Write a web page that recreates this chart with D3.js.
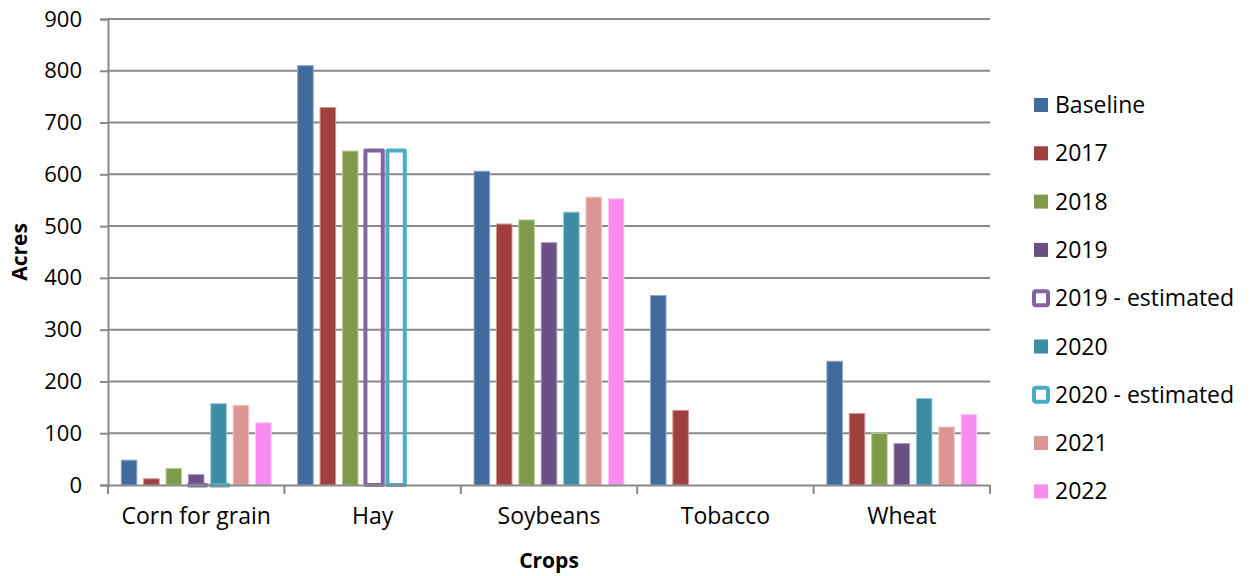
<!DOCTYPE html>
<html>
<head>
<meta charset="utf-8">
<script src="https://cdn.jsdelivr.net/npm/d3@7"></script>
<style>
  body { margin: 0; background: #fff; }
  text { font-family: "Open Sans", "Noto Sans", sans-serif; fill: #000; }
</style>
</head>
<body>
<svg id="chart" width="1251" height="576"></svg>
<script>
// crops on the x axis
var crops = ["Corn for grain", "Hay", "Soybeans", "Tobacco", "Wheat"];

// solid series (null = no bar)
var baseline = [48, 810, 606, 366, 239];
var y2017 = [12, 729, 504, 144, 138];
var y2018 = [32, 645, 512, null, 100];
var y2019 = [20, null, 468, null, 80];
var y2020 = [157, null, 527, null, 167];
var y2021 = [154, null, 556, null, 112];
var y2022 = [120, null, 553, null, 136];

// outlined (estimated) series
var y2019est = [0, 646, null, null, null];
var y2020est = [0, 646, null, null, null];

var yTicks = [0, 100, 200, 300, 400, 500, 600, 700, 800, 900];

var solidSeries = [
  {name: "Baseline", values: baseline, color: "#416a9d", edge: "#8ea8cc"},
  {name: "2017", values: y2017, color: "#a0403e", edge: "#cf9594"},
  {name: "2018", values: y2018, color: "#7f9a48", edge: "#bccd98"},
  {name: "2019", values: y2019, color: "#6a5084", edge: "#a996bf"},
  {name: "2020", values: y2020, color: "#3c8da3", edge: "#94c7d6"},
  {name: "2021", values: y2021, color: "#db9694", edge: "#f0c8c7"},
  {name: "2022", values: y2022, color: "#f98cf0", edge: "#fdc6f8"}
];
var estSeries = [
  {name: "2019 - estimated", values: y2019est, color: "#8064a2"},
  {name: "2020 - estimated", values: y2020est, color: "#4bacc6"}
];
var legendItems = [
  solidSeries[0], solidSeries[1], solidSeries[2], solidSeries[3],
  estSeries[0], solidSeries[4], estSeries[1], solidSeries[5], solidSeries[6]
];

var svg = d3.select("#chart"),
    margin = {top: 19, right: 261, bottom: 91, left: 108},
    width = +svg.attr("width") - margin.left - margin.right,
    height = +svg.attr("height") - margin.top - margin.bottom,
    g = svg.append("g").attr("transform", "translate(" + margin.left + "," + margin.top + ")");

var x = d3.scaleBand().domain(crops).range([0, width]);

// primary bars: 7 slots per crop
var x1 = d3.scaleBand()
    .domain(solidSeries.map(function(s) { return s.name; }))
    .range([0, x.bandwidth()])
    .paddingInner(0.26)
    .paddingOuter(0.57);

// estimated bars sit on their own wider, off-centre grouping
var x2 = d3.scaleBand()
    .domain(estSeries.map(function(s) { return s.name; }))
    .range([0, x.bandwidth()])
    .paddingInner(0.03)
    .paddingOuter(3.02)
    .align(0.594);

var y = d3.scaleLinear().domain([0, 900]).range([height, 0]);

// gridlines
g.append("g")
    .selectAll("line")
    .data(yTicks.slice(1))
    .enter().append("line")
      .attr("x1", 0)
      .attr("x2", width)
      .attr("y1", function(d) { return y(d); })
      .attr("y2", function(d) { return y(d); })
      .attr("stroke", "#898989")
      .attr("stroke-width", 2);

// y axis
var yAxis = g.append("g")
    .call(d3.axisLeft(y).tickValues(yTicks).tickSize(8).tickPadding(18));
yAxis.select(".domain").attr("stroke", "#898989").attr("stroke-width", 2);
yAxis.selectAll(".tick line").attr("stroke", "#898989").attr("stroke-width", 2);
yAxis.selectAll(".tick text").style("font-size", "22px").attr("fill", "#000");

// solid bars
var groups = g.selectAll(".crop")
    .data(crops)
    .enter().append("g")
      .attr("class", "crop")
      .attr("transform", function(d) { return "translate(" + x(d) + ",0)"; });

solidSeries.forEach(function(s) {
  groups.filter(function(d, i) { return s.values[i] != null; })
    .append("rect")
      .attr("x", x1(s.name) + 0.5)
      .attr("width", x1.bandwidth() - 1)
      .attr("y", function(d) { return y(s.values[crops.indexOf(d)]); })
      .attr("height", function(d) { return height - y(s.values[crops.indexOf(d)]); })
      .attr("fill", s.color)
      .attr("stroke", s.edge)
      .attr("stroke-width", 1);
});

// outlined bars (a zero value still shows as a flat outline)
estSeries.forEach(function(s) {
  groups.filter(function(d, i) { return s.values[i] != null; })
    .append("rect")
      .attr("x", x2(s.name) + 2)
      .attr("width", x2.bandwidth() - 4)
      .attr("y", function(d) { return y(s.values[crops.indexOf(d)]); })
      .attr("height", function(d) { return Math.max(0.5, height - y(s.values[crops.indexOf(d)])); })
      .attr("fill", "none")
      .attr("stroke", s.color)
      .attr("stroke-width", 4)
      .attr("stroke-linejoin", "round");
});

// x axis
var xAxis = g.append("g")
    .attr("transform", "translate(0," + height + ")")
    .call(d3.axisBottom(x).tickSize(0).tickPadding(23));
xAxis.select(".domain").attr("stroke", "#898989").attr("stroke-width", 2);
xAxis.selectAll(".tick text").style("font-size", "23px").attr("fill", "#000");

// category separators below the axis
g.append("g")
    .selectAll("line")
    .data(d3.range(crops.length + 1))
    .enter().append("line")
      .attr("x1", function(i) { return i * x.step(); })
      .attr("x2", function(i) { return i * x.step(); })
      .attr("y1", height)
      .attr("y2", height + 9)
      .attr("stroke", "#898989")
      .attr("stroke-width", 2);

// axis titles
svg.append("text")
    .attr("transform", "translate(20," + (margin.top + height / 2) + ") rotate(-90)")
    .attr("text-anchor", "middle")
    .attr("dy", "0.35em")
    .style("font-size", "21px")
    .style("font-weight", "bold")
    .text("Acres");

svg.append("text")
    .attr("x", margin.left + width / 2)
    .attr("y", 568)
    .attr("text-anchor", "middle")
    .style("font-size", "21px")
    .style("font-weight", "bold")
    .text("Crops");

// legend
var legend = svg.append("g").attr("transform", "translate(1034,105)");
var row = legend.selectAll(".row")
    .data(legendItems)
    .enter().append("g")
      .attr("class", "row")
      .attr("transform", function(d, i) { return "translate(0," + (i * 48.3) + ")"; });

row.append("rect")
    .attr("y", -7)
    .attr("width", 14)
    .attr("height", 14)
    .attr("rx", function(d) { return d.edge ? 0 : 2; })
    .attr("fill", function(d) { return d.edge ? d.color : "#fff"; })
    .attr("stroke", function(d) { return d.edge ? "none" : d.color; })
    .attr("stroke-width", 4);

row.append("text")
    .attr("x", 21)
    .attr("dy", "0.35em")
    .style("font-size", "23px")
    .text(function(d) { return d.name; });
</script>
</body>
</html>
